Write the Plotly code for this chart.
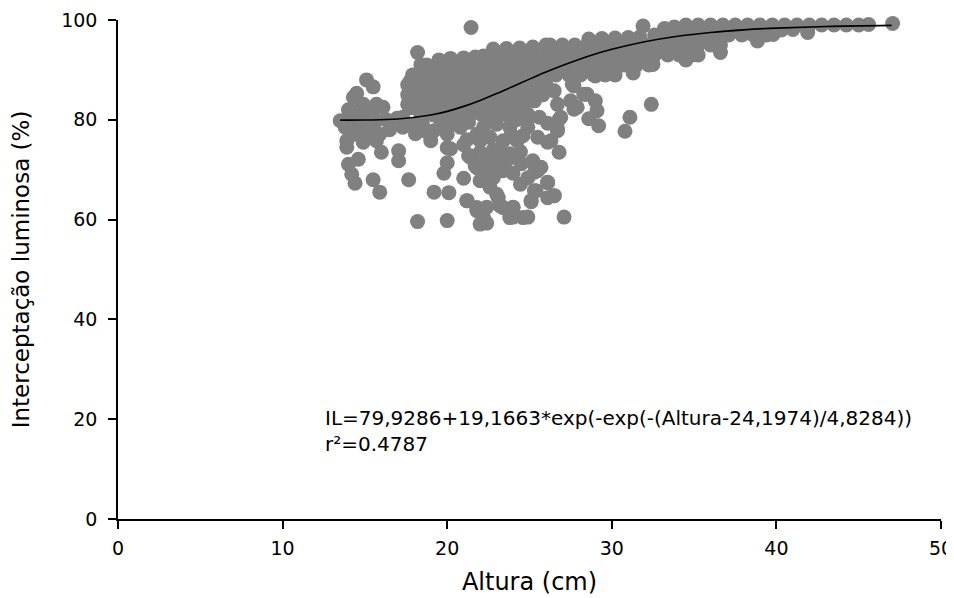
import plotly.graph_objects as go

# ---------------- data ----------------
# Altura (cm) , Interceptação luminosa (%)
pts_left_cluster = [
    (13.5, 79.8), (13.8, 78.5), (13.9, 75.8), (13.9, 74.5), (14.0, 71.1), (14.2, 69.1), (14.4, 67.3),
    (14.1, 80.5), (14.0, 82.0), (14.3, 84.5), (14.5, 85.3), (14.6, 81.8), (14.3, 77.1), (14.7, 78.5),
    (14.9, 83.1), (14.9, 75.5), (14.6, 72.1), (15.1, 88.0), (15.5, 86.6), (15.1, 81.1), (15.3, 78.5),
    (15.7, 83.1), (15.7, 79.8), (15.9, 77.1), (15.7, 75.8), (15.5, 68.0), (15.9, 65.5), (16.0, 73.5),
    (16.1, 82.5), (16.3, 80.0), (16.5, 78.0), (14.5, 79.5), (15.0, 80.0), (15.5, 80.5), (14.2, 79.0),
    (15.2, 77.0), (14.8, 76.5), (16.95, 80.3), (17.05, 73.8), (17.05, 71.8), (17.66, 68.0), (17.3, 78.5),
]

pts_dense_band = [
    # IL ~ 99
    (34.5, 99.0), (35.25, 99.0), (36.0, 99.0), (36.75, 99.0), (37.5, 99.0), (38.25, 99.0), (39.0, 99.0),
    (39.75, 99.0), (40.5, 99.0), (41.25, 99.0), (42.0, 99.0), (42.75, 99.0), (43.5, 99.0), (44.25, 99.0),
    (45.0, 99.0), (45.6, 99.1),
    # IL ~ 97
    (32.6, 97.0), (33.4, 97.0), (34.1, 97.0), (34.9, 97.0), (35.6, 97.0), (36.4, 97.0), (37.1, 97.0),
    (37.9, 97.0), (38.6, 97.0), (39.4, 97.0), (39.8, 97.1),
    # IL ~ 95
    (26.25, 95.0), (27.0, 95.0), (27.75, 95.0), (28.5, 95.0), (29.25, 95.0), (30.0, 95.0), (30.75, 95.0),
    (31.5, 95.0), (32.25, 95.0), (33.0, 95.0), (33.75, 95.0), (34.5, 95.0), (35.25, 95.0), (36.0, 95.0),
    (36.6, 95.0),
    # IL ~ 93
    (22.6, 93.0), (23.1, 93.0), (23.6, 93.0), (24.4, 93.0), (25.1, 93.0), (25.9, 93.0), (26.6, 93.0),
    (27.4, 93.0), (28.1, 93.0), (28.9, 93.0), (29.6, 93.0), (30.4, 93.0), (31.1, 93.0), (31.9, 93.0),
    (32.6, 93.0), (33.4, 93.0), (34.1, 93.0), (34.9, 93.0), (35.25, 93.0),
    # IL ~ 91
    (18.4, 91.0), (18.75, 91.0), (19.5, 91.0), (20.25, 91.0), (21.0, 91.0), (21.75, 91.0), (22.5, 91.0),
    (23.25, 91.0), (24.0, 91.0), (24.75, 91.0), (25.5, 91.0), (26.25, 91.0), (27.0, 91.0), (27.75, 91.0),
    (28.5, 91.0), (29.25, 91.0), (30.0, 91.0), (30.75, 91.0), (31.5, 91.0), (32.25, 91.0),
    # IL ~ 89
    (17.9, 89.0), (18.4, 89.0), (19.1, 89.0), (19.9, 89.0), (20.6, 89.0), (21.4, 89.0), (22.1, 89.0),
    (22.9, 89.0), (23.6, 89.0), (24.4, 89.0), (25.1, 89.0), (25.9, 89.0), (26.6, 89.0), (27.4, 89.0),
    (28.1, 89.0), (28.9, 89.0), (29.6, 89.0), (30.2, 89.0),
    # IL ~ 87
    (17.6, 87.0), (18.2, 87.0), (18.75, 87.0), (19.5, 87.0), (20.25, 87.0), (21.0, 87.0), (21.75, 87.0),
    (22.5, 87.0), (23.25, 87.0), (24.0, 87.0), (24.75, 87.0), (25.3, 87.0),
    # IL ~ 85
    (17.6, 85.0), (18.4, 85.0), (19.1, 85.0), (19.9, 85.0), (20.6, 85.0), (21.4, 85.0), (22.1, 85.0),
    (22.9, 85.0), (23.6, 85.0), (24.4, 85.0), (25.1, 85.0),
    # IL ~ 83
    (17.7, 83.0), (18.2, 83.0), (18.75, 83.0), (19.5, 83.0), (20.25, 83.0), (21.0, 83.0), (21.75, 83.0),
    (22.5, 83.0), (23.25, 83.0), (24.0, 83.0), (24.6, 83.0),
    # IL ~ 81
    (18.4, 81.0), (19.1, 81.0), (19.9, 81.0), (20.6, 81.0), (21.4, 81.0), (22.1, 81.0), (22.9, 81.0),
    (23.6, 81.0), (24.3, 81.0),
]

pts_band_edges = [
    (18.2, 93.5), (21.45, 98.5), (18.56, 90.2), (17.76, 87.8), (17.8, 85.8), (17.8, 82.4), (17.6, 83.1),
    (17.3, 80.5), (18.0, 79.1), (18.4, 79.8), (19.6, 79.8), (20.8, 80.5), (21.8, 81.8), (22.8, 82.5),
    (23.6, 83.8), (31.9, 98.8), (33.2, 98.3), (33.8, 98.6), (40.3, 98.0), (41.0, 98.1), (41.9, 97.5),
    (28.6, 96.2), (29.4, 96.3), (30.2, 96.4), (31.0, 96.5), (31.7, 96.6),
    (22.8, 94.2), (23.6, 94.3), (24.4, 94.4), (25.2, 94.6), (26.0, 95.0),
    (19.5, 92.0), (20.2, 92.3), (21.0, 92.4), (21.7, 92.6), (22.2, 92.8),
    (36.6, 93.5), (38.85, 95.8), (34.5, 92.0), (32.5, 91.1), (31.3, 89.4), (30.3, 90.5),
    (47.06, 99.3),
]

pts_lower_scatter = [
    (18.2, 59.6), (20.0, 59.8), (19.2, 65.5), (20.1, 65.4), (19.8, 69.3), (20.0, 71.4), (21.0, 68.3),
    (20.0, 74.4), (20.0, 77.1), (20.8, 78.5), (21.4, 72.8), (21.7, 70.8), (22.2, 68.5), (22.6, 66.5),
    (22.4, 71.8), (21.2, 63.8), (21.8, 61.8), (22.0, 59.1), (22.4, 62.5), (23.0, 65.1), (23.2, 62.8),
    (24.0, 62.5), (24.9, 60.5), (24.0, 60.5), (25.1, 63.6), (25.4, 65.8), (26.5, 64.8), (27.1, 60.5),
    (26.1, 67.5), (25.2, 71.5), (25.3, 69.5), (26.8, 73.5), (26.1, 75.5), (25.5, 76.5), (26.7, 78.2),
    (26.1, 79.3), (26.9, 80.5), (27.7, 82.1), (23.2, 73.8), (23.6, 71.8), (24.0, 69.3), (24.45, 67.1),
    (23.4, 69.8), (22.0, 75.8), (22.6, 76.5), (23.4, 75.8), (24.25, 75.8), (24.45, 73.6), (24.9, 78.5),
    (23.8, 78.5), (22.2, 78.5), (21.8, 77.1), (23.0, 79.1), (23.8, 81.1), (24.9, 81.1), (25.3, 83.8),
    (26.7, 83.1), (27.5, 83.8), (24.9, 80.1), (25.7, 70.5), (26.3, 75.8), (26.8, 80.1), (26.7, 77.8),
    (27.9, 82.5), (28.5, 85.1), (27.6, 87.1), (28.6, 80.2), (29.2, 78.8), (29.1, 81.8), (29.0, 83.8),
    (28.3, 85.1), (27.7, 86.8), (26.5, 85.8), (29.0, 88.8), (32.4, 83.1), (31.1, 80.5), (30.8, 77.7),
    (18.07, 77.2), (19.2, 77.8), (18.8, 77.5), (19.0, 75.8), (20.2, 74.2), (18.5, 79.0), (19.8, 78.2),
    (21.3, 79.5), (21.2, 76.0), (22.8, 74.0), (23.9, 77.0), (24.6, 76.8), (21.0, 75.0), (22.0, 73.5),
    (23.0, 72.0), (24.0, 72.5), (22.5, 80.0), (24.2, 80.0), (25.6, 80.5), (20.2, 79.0), (26.0, 87.0),
    (25.8, 85.0), (21.4, 72.5), (22.4, 59.3),
]

pts_lower_core = [
    (21.3, 72.8), (21.8, 70.4), (22.4, 70.4), (23.0, 71.8), (22.0, 67.8), (22.8, 68.4), (23.2, 69.8),
    (23.8, 73.2), (24.5, 71.2), (25.2, 71.8), (25.5, 69.8), (24.9, 68.4), (26.1, 67.4),
    (21.2, 63.8), (21.8, 62.4), (22.2, 60.4), (23.1, 64.4), (23.4, 62.4), (24.0, 62.4), (23.8, 60.4),
    (24.6, 60.4), (25.3, 65.8), (25.1, 63.8), (26.1, 64.4), (26.5, 64.8),
]

# fitted curve IL = 79,9286 + 19,1663*exp(-exp(-(Altura-24,1974)/4,8284)), values read at these heights
curve_altura = [13.5, 15, 17, 19, 20, 21, 22, 23, 24, 25, 26, 27, 28, 29, 30, 32, 34, 36, 38, 40, 43, 47]
curve_il = [79.93, 79.95, 80.15, 80.95, 81.69, 82.69, 83.89, 85.25, 86.69, 88.15, 89.56, 90.88,
            92.09, 93.17, 94.12, 95.64, 96.74, 97.50, 98.03, 98.38, 98.71, 98.93]

x_ticks = [0, 10, 20, 30, 40, 50]
y_ticks = [0, 20, 40, 60, 80, 100]

equation_text = "IL=79,9286+19,1663*exp(-exp(-(Altura-24,1974)/4,8284))<br>r²=0.4787"

# ---------------- figure ----------------
all_pts = pts_left_cluster + pts_dense_band + pts_band_edges + pts_lower_scatter + pts_lower_core
altura = [p[0] for p in all_pts]
intercep = [p[1] for p in all_pts]

FONT = "DejaVu Sans"

fig = go.Figure()
fig.add_trace(go.Scatter(
    x=altura, y=intercep, mode="markers",
    marker=dict(size=15, color="#808080", line=dict(width=0)),
    cliponaxis=False, showlegend=False,
))
fig.add_trace(go.Scatter(
    x=curve_altura, y=curve_il, mode="lines",
    line=dict(color="black", width=1.6, shape="spline"),
    cliponaxis=False, showlegend=False,
))

fig.add_annotation(
    x=12.47, y=23.0, xref="x", yref="y", xanchor="left", yanchor="top",
    text=equation_text, showarrow=False, align="left",
    font=dict(family=FONT, size=20, color="black"),
)

axis_common = dict(
    showline=True, linecolor="black", linewidth=1.5,
    ticks="outside", ticklen=8, tickwidth=1.5, tickcolor="black",
    showgrid=False, zeroline=False, automargin=False,
    tickfont=dict(family=FONT, size=19, color="black"),
)

fig.update_xaxes(
    range=[0, 50], tickvals=x_ticks, ticklabelstandoff=3,
    title=dict(text="Altura (cm)", font=dict(family=FONT, size=24, color="black"), standoff=16),
    **axis_common,
)
fig.update_yaxes(
    range=[0, 100], tickvals=y_ticks, ticklabelstandoff=7,
    title=dict(text="Interceptação luminosa (%)", font=dict(family=FONT, size=23, color="black"), standoff=26),
    **axis_common,
)

# the page shows the figure 8px in from its top-left corner, so the figure is 8px smaller
fig.update_layout(
    width=946, height=590, autosize=False,
    margin=dict(l=110, r=13, t=12, b=79),
    plot_bgcolor="white", paper_bgcolor="white",
)

fig.write_html("out.html")
